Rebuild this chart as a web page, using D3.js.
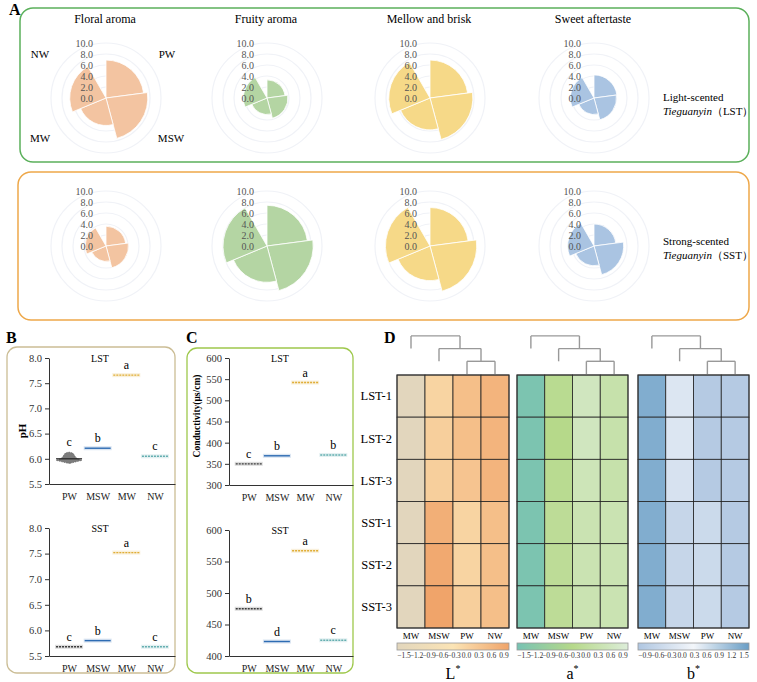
<!DOCTYPE html>
<html>
<head>
<meta charset="utf-8">
<script src="https://cdn.jsdelivr.net/npm/d3@7"></script>
<style>
  body { margin: 0; background: #fff; }
  svg { font-family: "Liberation Serif", "Times New Roman", serif; }
</style>
</head>
<body>
<div id="chart"></div>
<script>
/* ---------- data ---------- */

// A: sensory rose charts
var roseCats = ["PW", "MSW", "MW", "NW"];
var attributes = ["Floral aroma", "Fruity aroma", "Mellow and brisk", "Sweet aftertaste"];
var roseColors = ["#f3c4a1", "#b4d5a3", "#f6d988", "#aac4e2"];
var lstScores = [[6.9, 7.6, 5.0, 6.6], [3.3, 3.8, 3.0, 4.3], [6.9, 7.8, 5.8, 7.5], [4.2, 4.1, 3.0, 4.3]];
var sstScores = [[3.6, 4.1, 2.8, 3.8], [7.4, 8.4, 6.6, 8.0], [7.0, 8.5, 6.3, 8.1], [4.0, 5.4, 3.6, 4.8]];
var roseTicks = [0, 2, 4, 6, 8, 10];

// B: pH
var waterGroups = ["PW", "MSW", "MW", "NW"];
var phLST = [6.00, 6.21, 7.66, 6.05];
var phSST = [5.68, 5.80, 7.52, 5.68];
var phLetterLST = ["c", "b", "a", "c"];
var phLetterSST = ["c", "b", "a", "c"];
var phTicks = [5.5, 6.0, 6.5, 7.0, 7.5, 8.0];
// spread of the PW (LST) replicates: [pH, half width in px]
var pwViolin = [[5.91, 1], [5.94, 7], [5.97, 13], [5.99, 10], [6.02, 7], [6.05, 6], [6.08, 5], [6.11, 4], [6.13, 1]];

// C: conductivity
var condLST = [350, 369, 542, 371];
var condSST = [475, 423, 567, 425];
var condLetterLST = ["c", "b", "a", "b"];
var condLetterSST = ["b", "d", "a", "c"];
var condTicksLST = [300, 350, 400, 450, 500, 550, 600];
var condTicksSST = [400, 450, 500, 550, 600];
var groupColors = ["#3b3b3b", "#2e6cb3", "#e0ad36", "#64aeb0"];

// D: colour heatmaps
var samples = ["LST-1", "LST-2", "LST-3", "SST-1", "SST-2", "SST-3"];
var waterOrder = ["MW", "MSW", "PW", "NW"];
var Lvals = [[-1.5, 0.0, 0.4, 0.6], [-1.5, 0.1, 0.4, 0.6], [-1.5, 0.1, 0.3, 0.6],
             [-1.5, 0.7, 0.0, 0.4], [-1.5, 0.8, 0.0, 0.4], [-1.5, 0.9, 0.1, 0.4]];
var avals = [[-1.4, -0.2, 0.5, 0.2], [-1.4, -0.3, 0.5, 0.2], [-1.4, -0.2, 0.4, 0.2],
             [-1.4, -0.1, 0.3, 0.3], [-1.4, -0.1, 0.3, 0.3], [-1.4, -0.1, 0.3, 0.3]];
var bvals = [[1.3, -0.1, -0.8, -0.8], [1.3, -0.1, -0.8, -0.8], [1.3, -0.2, -0.8, -0.8],
             [1.3, -0.5, -0.4, -0.8], [1.3, -0.5, -0.4, -0.8], [1.3, -0.5, -0.4, -0.8]];
var Lticks = [-1.5, -1.2, -0.9, -0.6, -0.3, 0.0, 0.3, 0.6, 0.9];
var aticks = [-1.5, -1.2, -0.9, -0.6, -0.3, 0.0, 0.3, 0.6, 0.9];
var bticks = [-0.9, -0.6, -0.3, 0.0, 0.3, 0.6, 0.9, 1.2, 1.5];

/* ---------- svg ---------- */
var W = 757, H = 682;
var svg = d3.select("#chart").append("svg")
  .attr("width", W).attr("height", H)
  .attr("viewBox", [0, 0, W, H]);
svg.append("rect").attr("width", W).attr("height", H).attr("fill", "#fff");

function panelLetter(t, x, y) {
  svg.append("text").attr("x", x).attr("y", y)
    .attr("font-size", 16).attr("font-weight", "bold").text(t);
}

/* ---------- A: rose charts ---------- */
panelLetter("A", 9, 15);
svg.append("rect").attr("x", 20).attr("y", 8).attr("width", 729).attr("height", 154)
  .attr("rx", 13).attr("fill", "none").attr("stroke", "#5bb05b").attr("stroke-width", 1.5);
svg.append("rect").attr("x", 18).attr("y", 172).attr("width", 731).attr("height", 148)
  .attr("rx", 13).attr("fill", "none").attr("stroke", "#eea84a").attr("stroke-width", 1.5);

var roseCx = [106, 267, 430, 594];
var roseCy = [98, 246];
var r = d3.scaleLinear().domain([0, 10]).range([0, 55]);
var ang = d3.scaleBand().domain(roseCats).range([0, 330 * Math.PI / 180]);
var arc = d3.arc()
  .innerRadius(0)
  .outerRadius(d => r(d.v))
  .startAngle(d => ang(d.c))
  .endAngle(d => ang(d.c) + ang.bandwidth());

function roseChart(cx, cy, values, color, showCats) {
  var g = svg.append("g").attr("transform", `translate(${cx},${cy})`);
  // faint rings
  g.selectAll(".ring").data(roseTicks.filter(t => t > 0)).join("circle")
    .attr("r", d => r(d)).attr("fill", "none")
    .attr("stroke", "#f0f2f7").attr("stroke-width", 1.2);
  g.selectAll(".sector").data(roseCats.map((c, i) => ({ c: c, v: values[i] }))).join("path")
    .attr("d", arc).attr("fill", color)
    .attr("stroke", "#fff").attr("stroke-width", 0.8);
  // radial tick labels
  g.selectAll(".rt").data(roseTicks).join("text")
    .attr("x", -13).attr("y", d => -r(d))
    .attr("dy", "0.35em").attr("text-anchor", "end")
    .attr("font-size", 10).attr("fill", "#555")
    .text(d => d3.format(".1f")(d));
  if (showCats) {
    var pos = { NW: [-66, -40], PW: [61, -40], MW: [-66, 44], MSW: [65, 44] };
    roseCats.forEach(c => {
      g.append("text").attr("x", pos[c][0]).attr("y", pos[c][1])
        .attr("text-anchor", "middle").attr("font-size", 11).text(c);
    });
  }
}

attributes.forEach(function (a, i) {
  svg.append("text").attr("x", roseCx[i] - 1).attr("y", 23)
    .attr("text-anchor", "middle").attr("font-size", 12).text(a);
  roseChart(roseCx[i], roseCy[0], lstScores[i], roseColors[i], i === 0);
  roseChart(roseCx[i], roseCy[1], sstScores[i], roseColors[i], false);
});

function sideLabel(y, line1, abbr) {
  svg.append("text").attr("x", 663).attr("y", y).attr("font-size", 11).text(line1);
  var t = svg.append("text").attr("x", 663).attr("y", y + 14).attr("font-size", 11);
  t.append("tspan").attr("font-style", "italic").text("Tieguanyin");
  t.append("tspan").text("（" + abbr + "）");
}
sideLabel(101, "Light-scented", "LST");
sideLabel(245, "Strong-scented", "SST");

/* ---------- B & C: dot plots ---------- */
panelLetter("B", 6, 343);
panelLetter("C", 186, 343);
svg.append("rect").attr("x", 7).attr("y", 347).attr("width", 168).attr("height", 326)
  .attr("rx", 10).attr("fill", "none").attr("stroke", "#cbbd95").attr("stroke-width", 1.3);
svg.append("rect").attr("x", 187).attr("y", 348).attr("width", 166).attr("height", 325)
  .attr("rx", 10).attr("fill", "none").attr("stroke", "#9ec84c").attr("stroke-width", 1.3);

function dotPlot(o) {
  var x = d3.scalePoint().domain(waterGroups).range([o.x0, o.x1]).padding(0.7);
  var y = d3.scaleLinear().domain(o.domain).range([o.yBottom, o.yTop]);
  var g = svg.append("g");

  g.append("g").attr("transform", `translate(${o.x0},0)`)
    .call(d3.axisLeft(y).tickValues(o.ticks).tickFormat(o.fmt).tickSize(4).tickSizeOuter(0))
    .call(a => a.selectAll("text").attr("font-size", 10.5).attr("fill", "#333").attr("font-family", "Liberation Serif"))
    .call(a => a.selectAll("line,path").attr("stroke", "#333"));
  g.append("g").attr("transform", `translate(0,${o.yBottom})`)
    .call(d3.axisBottom(x).tickSize(0).tickPadding(9).tickSizeOuter(0))
    .call(a => a.selectAll("text").attr("font-size", 10).attr("fill", "#222").attr("font-family", "Liberation Serif"))
    .call(a => a.select("path").attr("stroke", "#333"));

  g.append("text").attr("x", o.x0 + 51).attr("y", o.yTop + 4)
    .attr("text-anchor", "middle").attr("font-size", 10).text(o.title);

  waterGroups.forEach(function (w, i) {
    var cx = x(w), cy = y(o.values[i]);
    var top = cy;
    if (o.violin && i === 0) {
      var area = d3.area().curve(d3.curveLinear)
        .y(d => y(d[0])).x0(d => cx - d[1]).x1(d => cx + d[1]);
      g.append("path").attr("d", area(o.violin)).attr("fill", "#666").attr("opacity", 0.85)
        .attr("stroke", "#333").attr("stroke-width", 0.6).attr("stroke-dasharray", "1.5,1");
      g.append("line").attr("x1", cx - 13).attr("x2", cx + 13).attr("y1", cy).attr("y2", cy)
        .attr("stroke", "#222").attr("stroke-width", 1.2);
      top = y(d3.max(o.violin, d => d[0]));
    } else {
      g.append("rect").attr("x", cx - 14).attr("y", cy - 2).attr("width", 28).attr("height", 4)
        .attr("fill", groupColors[i]).attr("opacity", 0.18);
      g.append("line").attr("x1", cx - 13).attr("x2", cx + 13).attr("y1", cy).attr("y2", cy)
        .attr("stroke", groupColors[i]).attr("stroke-width", 1.4)
        .attr("stroke-dasharray", i === 1 ? null : "2,1");
    }
    g.append("text").attr("x", cx).attr("y", top - 6)
      .attr("text-anchor", "middle").attr("font-size", 12).text(o.letters[i]);
  });
  return g;
}

var f1 = d3.format(".1f");
dotPlot({ x0: 49, x1: 175, yTop: 358, yBottom: 484, domain: [5.5, 8.0], ticks: phTicks, fmt: f1,
  values: phLST, letters: phLetterLST, title: "LST", violin: pwViolin });
dotPlot({ x0: 49, x1: 175, yTop: 528, yBottom: 656, domain: [5.5, 8.0], ticks: phTicks, fmt: f1,
  values: phSST, letters: phLetterSST, title: "SST" });
dotPlot({ x0: 229, x1: 353, yTop: 358, yBottom: 485, domain: [300, 600], ticks: condTicksLST, fmt: d3.format("d"),
  values: condLST, letters: condLetterLST, title: "LST" });
dotPlot({ x0: 229, x1: 353, yTop: 530, yBottom: 656, domain: [400, 600], ticks: condTicksSST, fmt: d3.format("d"),
  values: condSST, letters: condLetterSST, title: "SST" });

svg.append("text").attr("transform", "translate(26,431) rotate(-90)")
  .attr("text-anchor", "middle").attr("font-size", 11).attr("font-weight", "bold").text("pH");
svg.append("text").attr("transform", "translate(200,416) rotate(-90)")
  .attr("text-anchor", "middle").attr("font-size", 9.5).attr("font-weight", "bold").text("Conductivity(μs/cm)");

/* ---------- D: heatmaps ---------- */
panelLetter("D", 384, 343);
var hmTop = 375, hmBottom = 628;
var rowY = d3.scaleBand().domain(samples).range([hmTop, hmBottom]);

svg.selectAll(".rowlab").data(samples).join("text")
  .attr("x", 392).attr("y", d => rowY(d) + rowY.bandwidth() / 2)
  .attr("dy", "0.35em").attr("text-anchor", "end").attr("font-size", 12.5).text(d => d);

var heatmaps = [
  { x0: 397, x1: 509, vals: Lvals, ticks: Lticks, name: "L",
    color: d3.scaleLinear().domain([-1.5, -0.3, 0.9]).range(["#e2d6bd", "#fbe4b5", "#f0a46a"]) },
  { x0: 517, x1: 628, vals: avals, ticks: aticks, name: "a",
    color: d3.scaleLinear().domain([-1.5, -0.3, 0.9]).range(["#77c2b3", "#b6d98a", "#ddedd9"]) },
  { x0: 638, x1: 749, vals: bvals, ticks: bticks, name: "b",
    color: d3.scaleLinear().domain([-0.9, 0.3, 1.5]).range(["#afc6e1", "#f3f6fa", "#6a9ec6"]) }
];

// dendrogram shared by the three maps: MW | (MSW | (PW, NW))
var tree = { level: 3, kids: ["MW", { level: 2, kids: ["MSW", { level: 1, kids: ["PW", "NW"] }] }] };
var defs = svg.append("defs");

heatmaps.forEach(function (h, k) {
  var colX = d3.scaleBand().domain(waterOrder).range([h.x0, h.x1]);
  var g = svg.append("g");

  samples.forEach(function (s, i) {
    g.selectAll(null).data(h.vals[i]).join("rect")
      .attr("x", (d, j) => colX(waterOrder[j])).attr("y", rowY(s))
      .attr("width", colX.bandwidth()).attr("height", rowY.bandwidth())
      .attr("fill", d => h.color(d)).attr("stroke", "#222").attr("stroke-width", 0.8);
  });
  g.append("rect").attr("x", h.x0).attr("y", hmTop).attr("width", h.x1 - h.x0).attr("height", hmBottom - hmTop)
    .attr("fill", "none").attr("stroke", "#333").attr("stroke-width", 1);

  g.selectAll(".collab").data(waterOrder).join("text")
    .attr("x", d => colX(d) + colX.bandwidth() / 2).attr("y", 639)
    .attr("text-anchor", "middle").attr("font-size", 9).text(d => d);

  // dendrogram
  var lvY = lv => hmTop - 1 - lv * 12.7;
  function drawNode(n, parentLevel) {
    if (typeof n === "string") {
      var lx = colX(n) + colX.bandwidth() / 2;
      return { x: lx, y: lvY(parentLevel - 1) };
    }
    var kids = n.kids.map(c => drawNode(c, n.level));
    var by = lvY(n.level);
    kids.forEach(c => {
      g.append("line").attr("x1", c.x).attr("x2", c.x).attr("y1", by).attr("y2", c.y)
        .attr("stroke", "#999").attr("stroke-width", 1.4);
    });
    g.append("line").attr("x1", kids[0].x).attr("x2", kids[1].x).attr("y1", by).attr("y2", by)
      .attr("stroke", "#999").attr("stroke-width", 1.4);
    return { x: (kids[0].x + kids[1].x) / 2, y: by };
  }
  drawNode(tree, 4);

  // colour bar
  var cb = d3.scaleLinear().domain(d3.extent(h.ticks)).range([h.x0 + 7, h.x1 - 5]);
  var grad = defs.append("linearGradient").attr("id", "grad" + k);
  d3.range(0, 1.001, 0.1).forEach(t => {
    grad.append("stop").attr("offset", t)
      .attr("stop-color", h.color(h.ticks[0] + t * (h.ticks[h.ticks.length - 1] - h.ticks[0])));
  });
  g.append("rect").attr("x", h.x0).attr("y", 643).attr("width", h.x1 - h.x0).attr("height", 7)
    .attr("fill", `url(#grad${k})`).attr("stroke", "#999").attr("stroke-width", 0.8);
  g.selectAll(".cbt").data(h.ticks).join("text")
    .attr("x", d => cb(d)).attr("y", 658)
    .attr("text-anchor", "middle").attr("font-size", 7.5).attr("fill", "#333")
    .text(d => d3.format(".1f")(d));

  var lab = g.append("text").attr("x", (h.x0 + h.x1) / 2).attr("y", 679)
    .attr("text-anchor", "middle").attr("font-size", 16);
  lab.append("tspan").text(h.name);
  lab.append("tspan").attr("font-size", 10).attr("dy", -7).text("*");
});
</script>
</body>
</html>
